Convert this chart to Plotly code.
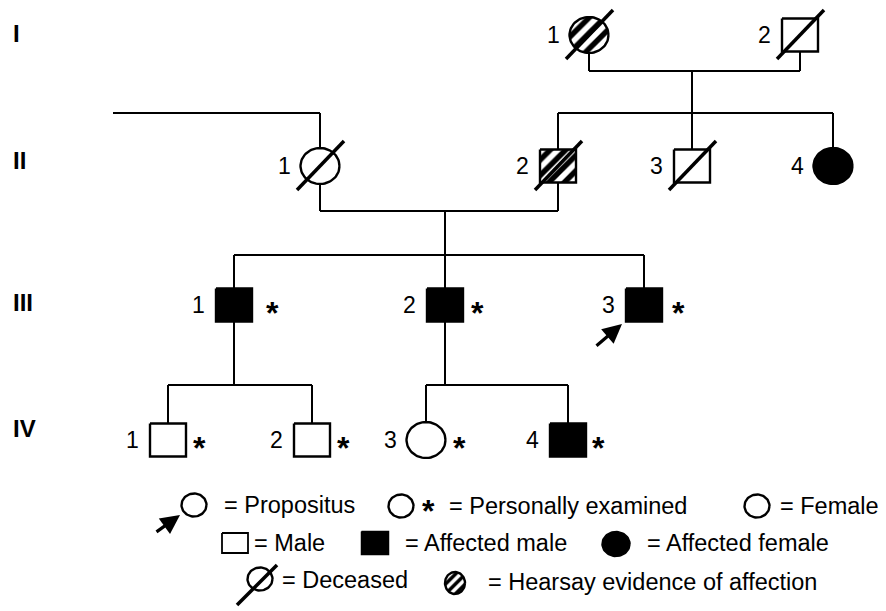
import numpy as np
import plotly.graph_objects as go

# ---------------- data ----------------
gen_labels = ["I", "II", "III", "IV"]

ids = ["I-1", "I-2", "II-1", "II-2", "II-3", "II-4",
       "III-1", "III-2", "III-3", "IV-1", "IV-2", "IV-3", "IV-4"]
generation = [0, 0, 1, 1, 1, 1, 2, 2, 2, 3, 3, 3, 3]
number = [1, 2, 1, 2, 3, 4, 1, 2, 3, 1, 2, 3, 4]
sex = ["F", "M", "F", "M", "M", "F", "M", "M", "M", "M", "M", "F", "M"]
status = ["hearsay", "normal", "normal", "hearsay", "normal", "affected",
          "affected", "affected", "affected", "normal", "normal", "normal", "affected"]
deceased = [1, 1, 1, 1, 1, 0, 0, 0, 0, 0, 0, 0, 0]
examined = [0, 0, 0, 0, 0, 0, 1, 1, 1, 1, 1, 1, 1]
propositus = "III-3"

couples = [("I-1", "I-2"), ("II-1", "II-2")]
sib_parents = ["I-1+I-2", "II-1+II-2", "III-1", "III-2"]
sib_children = [["II-2", "II-3", "II-4"], ["III-1", "III-2", "III-3"],
                ["IV-1", "IV-2"], ["IV-3", "IV-4"]]
outside_spouse_of = "II-1"

legend_texts = ["= Propositus", "= Personally examined", "= Female", "= Male",
                "= Affected male", "= Affected female", "= Deceased",
                "= Hearsay evidence of affection"]
legend_kinds = ["propositus", "examined", "female", "male",
                "affected_male", "affected_female", "deceased", "hearsay"]

# ---------------- layout (pixel positions) ----------------
W, H = 886, 611
gen_label_y = [33, 160, 302, 428]
row_y = [35, 166, 305, 440]
xpos = [589, 800, 320, 558, 692, 833, 234, 445, 644, 168, 312, 426, 568]
star_dx = [0, 0, 0, 0, 0, 0, 38, 32, 34, 31, 31, 33, 30]
couple_line_y = [71, 211]
sib_descent_x = [692, 445, 234, 445]
sib_line_y = [113, 255, 385, 385]
outside_line = (113, 113)

legend_sym_x = [194, 401, 757, 235, 375, 616, 260, 455]
legend_sym_y = [505, 506, 506, 543, 543, 544, 579, 583]
legend_text_x = [222, 447, 778, 252, 403, 645, 280, 486]
legend_text_y = [505, 506, 506, 543, 543, 543, 580, 582]

CRX, CRY = 19.5, 18.0   # circle radii
SHW, SHH = 18.0, 16.5   # square half sizes
LW = 2
FONT = "Liberation Sans, Arial, Helvetica, sans-serif"

idx = {k: i for i, k in enumerate(ids)}


def pos(pid):
    i = idx[pid]
    return xpos[i], row_y[generation[i]]


def half_h(pid):
    return CRY if sex[idx[pid]] == "F" else SHH


fig = go.Figure()


def shape_xy(kind, cx, cy, rx, ry):
    if kind == "circle":
        t = np.linspace(0, 2 * np.pi, 72)
        return list(cx + rx * np.cos(t)), list(cy + ry * np.sin(t))
    return ([cx - rx, cx + rx, cx + rx, cx - rx, cx - rx],
            [cy - ry, cy - ry, cy + ry, cy + ry, cy - ry])


def add_symbol(kind, fill, cx, cy, rx, ry, lw=2.4, hatch_size=11):
    xs, ys = shape_xy(kind, cx, cy, rx, ry)
    kw = dict(x=xs, y=ys, mode="lines", fill="toself",
              line=dict(color="black", width=lw),
              hoverinfo="skip", showlegend=False)
    if fill == "hatch":
        kw["fillcolor"] = "white"
        kw["fillpattern"] = dict(shape="/", fgcolor="black", bgcolor="white",
                                 fgopacity=1, size=hatch_size, solidity=0.5)
    else:
        kw["fillcolor"] = "black" if fill == "black" else "white"
    fig.add_trace(go.Scatter(**kw))


def star(x, y):
    return dict(x=x, y=y, text="<b>*</b>", showarrow=False,
                xanchor="center", yanchor="middle",
                font=dict(size=32, color="black", family=FONT))


# ---------------- connectors ----------------
lx, ly = [], []


def seg(x0, y0, x1, y1):
    lx.extend([x0, x1, None])
    ly.extend([y0, y1, None])


couple_mid = {}
for (a, b), cy in zip(couples, couple_line_y):
    ax_, ay_ = pos(a)
    bx_, by_ = pos(b)
    seg(ax_, ay_ + half_h(a), ax_, cy)
    seg(ax_, cy, bx_, cy)
    seg(bx_, cy, bx_, by_ + half_h(b))
    couple_mid[a + "+" + b] = cy

for par, dx, sy, kids in zip(sib_parents, sib_descent_x, sib_line_y, sib_children):
    if par in couple_mid:
        top = couple_mid[par]
    else:
        top = pos(par)[1] + half_h(par)
    seg(dx, top, dx, sy)
    kx = [pos(k)[0] for k in kids]
    seg(min(kx + [dx]), sy, max(kx + [dx]), sy)
    for k in kids:
        x, y = pos(k)
        seg(x, sy, x, y - half_h(k))

ox, oy = pos(outside_spouse_of)
seg(outside_line[0], outside_line[1], ox, outside_line[1])
seg(ox, outside_line[1], ox, oy - half_h(outside_spouse_of))

fig.add_trace(go.Scatter(x=lx, y=ly, mode="lines",
                         line=dict(color="black", width=LW),
                         hoverinfo="skip", showlegend=False))

# ---------------- individuals ----------------
ann = []
slx, sly = [], []
for i, pid in enumerate(ids):
    x, y = pos(pid)
    kind = "circle" if sex[i] == "F" else "square"
    rx, ry = (CRX, CRY) if kind == "circle" else (SHW, SHH)
    fill = {"affected": "black", "hearsay": "hatch"}.get(status[i], "white")
    add_symbol(kind, fill, x, y, rx, ry)
    if deceased[i]:
        slx.extend([x - 23, x + 24, None])
        sly.extend([y + 24, y - 25, None])
    ann.append(dict(x=x - 36, y=y, text=str(number[i]), showarrow=False,
                    xanchor="center", yanchor="middle",
                    font=dict(size=23, color="black", family=FONT)))
    if examined[i]:
        ann.append(star(x + star_dx[i], y + 8))

for g, lab in enumerate(gen_labels):
    ann.append(dict(x=11, y=gen_label_y[g], text="<b>" + lab + "</b>",
                    showarrow=False, xanchor="left", yanchor="middle",
                    font=dict(size=24, color="black", family=FONT)))

# propositus arrow
px_, py_ = pos(propositus)
ann.append(dict(x=px_ - 22, y=py_ + 19, ax=px_ - 49, ay=py_ + 42,
                xref="x", yref="y", axref="x", ayref="y", text="",
                showarrow=True, arrowhead=2, arrowsize=1.2, arrowwidth=3.2,
                arrowcolor="black", standoff=0))

# ---------------- legend ----------------
for k, kind in enumerate(legend_kinds):
    x, y = legend_sym_x[k], legend_sym_y[k]
    if kind in ("propositus", "examined", "female", "deceased"):
        add_symbol("circle", "white", x, y, 12.5, 11.5, lw=2.4)
    elif kind == "male":
        add_symbol("square", "white", x, y, 13, 10, lw=1.8)
    elif kind == "affected_male":
        add_symbol("square", "black", x, y, 13.5, 11.5, lw=1.5)
    elif kind == "affected_female":
        add_symbol("circle", "black", x, y, 14, 12.5, lw=1.5)
    elif kind == "hearsay":
        add_symbol("circle", "hatch", x, y, 10, 11, lw=2.4, hatch_size=7)
    if kind == "deceased":
        slx.extend([x - 23, x + 17, None])
        sly.extend([y + 26, y - 14, None])
    if kind == "examined":
        ann.append(star(x + 27, y + 5))
    if kind == "propositus":
        ann.append(dict(x=x - 14, y=y + 10, ax=x - 39, ay=y + 28,
                        xref="x", yref="y", axref="x", ayref="y", text="",
                        showarrow=True, arrowhead=2, arrowsize=1.2, arrowwidth=3.2,
                        arrowcolor="black", standoff=0))
    ann.append(dict(x=legend_text_x[k], y=legend_text_y[k], text=legend_texts[k],
                    showarrow=False, xanchor="left", yanchor="middle",
                    font=dict(size=23.5, color="black", family=FONT)))

fig.add_trace(go.Scatter(x=slx, y=sly, mode="lines",
                         line=dict(color="black", width=3.5),
                         hoverinfo="skip", showlegend=False))

fig.update_layout(
    width=W, height=H, autosize=False,
    margin=dict(l=0, r=0, t=0, b=0),
    paper_bgcolor="white", plot_bgcolor="white",
    xaxis=dict(range=[0, W], visible=False, fixedrange=True),
    yaxis=dict(range=[H, 0], visible=False, fixedrange=True),
    annotations=ann, showlegend=False,
)

fig.write_html("out.html", config={"displayModeBar": False},
               post_script="document.body.style.margin='0px';"
                           "document.body.style.overflow='hidden';")
